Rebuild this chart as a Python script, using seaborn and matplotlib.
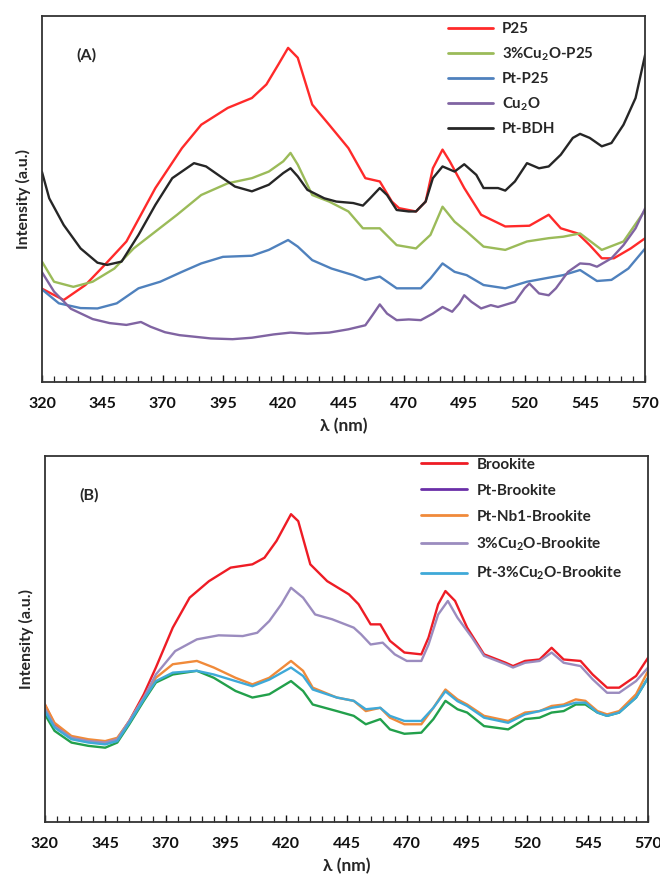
import pandas as pd
import seaborn as sns
import matplotlib.pyplot as plt
from matplotlib.lines import Line2D
from matplotlib.ticker import MultipleLocator, FixedLocator

# PL spectra, panel (A): P25 based samples
p25_wl = [320, 329, 338, 346, 355, 367, 378, 386, 397, 407, 413, 418, 422, 426, 432, 439, 447, 454, 460,
          465, 468, 475, 479, 482, 486, 489, 495, 502, 512, 522, 530, 535, 542, 547, 552, 557, 564, 570]
p25_int = [25.5, 22.4, 26.5, 32.0, 38.4, 53.0, 63.9, 70.3, 74.9, 77.6, 81.3, 86.8, 91.3, 88.6, 75.8, 70.3, 63.9,
           55.7, 54.8, 49.3, 47.5, 46.6, 49.3, 58.4, 63.5, 60.3, 53.0, 45.7, 42.5, 42.7, 45.7, 42.0, 40.6,
           37.4, 33.8, 33.8, 36.5, 39.3]

cu_p25_wl = [320, 325, 333, 341, 350, 358, 367, 376, 386, 397, 407, 414, 420, 423, 426, 432, 439, 447, 453,
             460, 467, 475, 481, 486, 491, 496, 503, 512, 521, 530, 536, 543, 552, 561, 570]
cu_p25_int = [32.9, 27.4, 26.0, 27.4, 31.0, 36.5, 41.1, 45.7, 51.1, 54.3, 55.7, 57.5, 60.3, 62.6, 59.4, 51.1,
              49.3, 46.6, 42.0, 42.0, 37.4, 36.5, 40.2, 47.9, 43.8, 41.1, 37.0, 36.1, 38.4, 39.3, 39.7, 40.6,
              36.1, 38.4, 47.0]

pt_p25_wl = [320, 327, 336, 343, 351, 360, 369, 378, 386, 395, 407, 414, 422, 426, 432, 440, 449, 454, 460,
             467, 477, 481, 486, 491, 496, 503, 512, 521, 530, 536, 543, 550, 556, 563, 570]
pt_p25_int = [25.3, 21.5, 20.2, 20.1, 21.5, 25.6, 27.4, 30.1, 32.4, 34.2, 34.5, 36.1, 38.8, 37.0, 33.3, 31.0,
              29.2, 27.9, 28.8, 25.6, 25.6, 28.3, 32.4, 30.1, 29.2, 26.5, 25.6, 27.4, 28.5, 29.2, 30.6, 27.6,
              27.9, 31.0, 36.5]

cu2o_wl = [320, 325, 332, 341, 348, 355, 361, 365, 371, 377, 390, 399, 407, 416, 423, 430, 439, 447, 454,
           457, 460, 463, 467, 472, 477, 482, 486, 490, 493, 495, 498, 502, 506, 509, 516, 520, 522, 526,
           530, 533, 538, 543, 547, 550, 556, 561, 566, 570]
cu2o_int = [30.0, 24.7, 20.0, 17.2, 16.1, 15.6, 16.4, 15.1, 13.6, 12.8, 11.9, 11.7, 12.1, 13.0, 13.5, 13.2,
            13.5, 14.4, 15.5, 18.3, 21.2, 18.7, 16.9, 17.1, 16.9, 18.7, 20.5, 19.2, 21.5, 23.7, 21.9, 20.1,
            21.0, 20.5, 21.9, 25.6, 26.9, 24.2, 23.7, 25.6, 30.1, 32.4, 32.2, 31.5, 33.8, 37.4, 42.0, 47.5]

bdh_wl = [320, 323, 329, 336, 343, 347, 353, 360, 367, 374, 383, 388, 393, 400, 407, 414, 420, 423, 426,
          430, 437, 442, 449, 453, 456, 460, 463, 467, 472, 475, 479, 482, 486, 491, 495, 500, 503, 509,
          512, 516, 521, 526, 530, 535, 540, 543, 547, 552, 556, 561, 566, 570]
bdh_int = [57.4, 50.2, 42.9, 36.5, 32.6, 32.0, 32.9, 40.2, 48.4, 55.7, 59.8, 58.9, 56.6, 53.4, 52.1, 53.9,
           57.1, 58.4, 56.2, 52.5, 50.2, 49.3, 48.9, 48.2, 50.2, 53.0, 51.1, 47.0, 46.6, 46.6, 49.3, 55.7,
           58.9, 57.5, 59.5, 56.6, 53.0, 53.0, 52.3, 54.8, 59.8, 58.4, 58.9, 62.1, 66.7, 67.8, 66.7, 64.4,
           65.3, 70.3, 77.6, 89.5]

# panel (B): brookite based samples
brk_wl = [320, 324, 331, 338, 345, 350, 355, 361, 366, 373, 380, 388, 397, 406, 411, 416, 422, 425, 430,
          437, 446, 450, 455, 459, 463, 469, 476, 479, 483, 486, 490, 495, 502, 511, 514, 519, 525, 530,
          535, 542, 547, 553, 558, 565, 570]
brk_int = [32.1, 26.7, 23.0, 22.1, 21.7, 22.6, 27.6, 34.9, 42.2, 53.1, 61.3, 65.8, 69.5, 70.4, 72.2, 76.8,
           84.1, 82.2, 70.4, 65.8, 62.2, 59.5, 54.0, 54.0, 49.5, 46.3, 45.8, 50.4, 59.5, 63.1, 60.4, 53.1,
           45.8, 43.5, 42.6, 44.0, 44.4, 47.6, 44.4, 44.0, 40.3, 36.7, 36.7, 39.9, 44.9]

cu_brk_wl = [320, 324, 331, 338, 345, 350, 355, 361, 366, 374, 383, 392, 402, 408, 413, 418, 422, 427, 432,
             439, 448, 451, 455, 460, 465, 470, 476, 479, 483, 487, 491, 497, 502, 511, 514, 519, 525, 530,
             535, 542, 547, 553, 558, 565, 570]
cu_brk_int = [31.0, 26.2, 23.0, 22.1, 21.7, 22.6, 27.6, 34.0, 40.3, 46.7, 49.9, 51.0, 50.8, 51.7, 54.9, 59.5,
              64.0, 61.3, 56.7, 55.4, 53.1, 51.3, 48.5, 49.0, 45.8, 44.0, 44.0, 48.5, 56.7, 60.4, 55.8, 50.4,
              45.4, 43.1, 42.2, 43.5, 44.0, 46.3, 43.5, 42.6, 39.0, 35.3, 35.3, 38.5, 42.2]

# the other three brookite curves share the same sampling
low_wl = [320, 324, 331, 338, 345, 350, 355, 361, 366, 373, 383, 390, 399, 406, 413, 422, 427, 431, 441,
          448, 453, 459, 463, 469, 476, 481, 486, 491, 495, 502, 512, 519, 525, 530, 535, 540, 544, 549,
          553, 558, 565, 570]
nb_brk_int = [32.1, 27.1, 23.5, 22.6, 22.1, 23.0, 27.6, 34.0, 39.4, 43.1, 44.0, 42.2, 39.4, 37.6, 39.4, 44.0,
              41.3, 36.7, 34.0, 33.1, 30.3, 31.2, 28.5, 26.7, 26.7, 31.2, 36.2, 33.5, 32.1, 29.0, 27.6, 29.9,
              30.3, 31.7, 32.1, 33.5, 33.1, 30.3, 29.4, 30.3, 34.9, 41.3]
pt_cu_brk_int = [30.3, 25.8, 22.6, 21.7, 21.2, 22.1, 27.1, 33.5, 38.5, 40.8, 41.3, 40.3, 38.5, 37.1, 38.9,
                 42.2, 39.9, 36.2, 34.0, 33.1, 30.8, 31.2, 29.0, 27.6, 27.6, 31.2, 35.7, 33.0, 31.7, 28.5,
                 27.1, 29.4, 30.3, 31.2, 31.7, 32.6, 32.6, 29.9, 29.0, 29.9, 34.0, 39.4]
pt_brk_int = [29.4, 24.9, 21.7, 20.8, 20.3, 21.7, 26.7, 33.1, 38.1, 40.3, 41.3, 39.4, 35.8, 34.0, 34.9, 38.5,
              35.8, 32.1, 30.3, 29.0, 26.7, 28.1, 25.3, 24.1, 24.4, 28.1, 33.1, 30.8, 29.9, 26.2, 25.3, 28.1,
              28.5, 29.9, 30.3, 32.1, 32.1, 29.9, 29.0, 29.9, 34.0, 39.4]

names_a = ['P25', '3%Cu$_2$O-P25', 'Pt-P25', 'Cu$_2$O', 'Pt-BDH']
colors_a = ['#ff2a2a', '#9bbb59', '#4f81bd', '#8064a2', '#262626']
names_b = ['Brookite', 'Pt-Brookite', 'Pt-Nb1-Brookite', '3%Cu$_2$O-Brookite', 'Pt-3%Cu$_2$O-Brookite']
colors_b = ['#ee1c25', '#22a04b', '#f08a3a', '#9b8cbf', '#3fa9d8']
legend_colors_b = ['#ee1c25', '#6a2fa8', '#f08a3a', '#9b8cbf', '#3fa9d8']
x_ticks = [320, 345, 370, 395, 420, 445, 470, 495, 520, 545, 570]


def long_df(series, names):
    parts = []
    for (wl, it), nm in zip(series, names):
        parts.append(pd.DataFrame({'wl': wl, 'I': it, 'sample': nm}))
    return pd.concat(parts, ignore_index=True)


df_a = long_df([(p25_wl, p25_int), (cu_p25_wl, cu_p25_int), (pt_p25_wl, pt_p25_int),
                (cu2o_wl, cu2o_int), (bdh_wl, bdh_int)], names_a)
df_b = long_df([(brk_wl, brk_int), (low_wl, pt_brk_int), (low_wl, nb_brk_int),
                (cu_brk_wl, cu_brk_int), (low_wl, pt_cu_brk_int)], names_b)

sns.set_style('white')
plt.rcParams['font.family'] = ['Lato', 'DejaVu Sans']
plt.rcParams['font.weight'] = 'bold'
plt.rcParams['mathtext.default'] = 'regular'
plt.rcParams['lines.solid_joinstyle'] = 'round'

fig = plt.figure(figsize=(6.6, 8.81), dpi=100)
ax_a = fig.add_axes([0.0636, 0.5664, 0.914, 0.4154])
ax_b = fig.add_axes([0.068, 0.067, 0.914, 0.4154])


def style_axis(ax, tag):
    ax.set_xlim(320, 570)
    ax.set_ylim(0, 100)
    ax.xaxis.set_major_locator(FixedLocator(x_ticks))
    ax.xaxis.set_minor_locator(MultipleLocator(5))
    ax.tick_params(axis='x', which='major', direction='in', length=5, width=1.0, pad=11,
                   labelsize=11.5, colors='#111111', bottom=True)
    ax.tick_params(axis='x', which='minor', direction='in', length=4, width=0.9, bottom=True, color='#222222')
    ax.set_yticks([])
    for sp in ax.spines.values():
        sp.set_color('#333333')
        sp.set_linewidth(1.3)
    ax.set_ylabel('Intensity (a.u.)', fontsize=11.5, fontweight='bold', labelpad=8)
    ax.set_xlabel('λ (nm)', fontsize=12.5, fontweight='bold', labelpad=5)
    ax.text(0.073, 0.893, tag, transform=ax.transAxes, fontsize=11.5, fontweight='bold',
            ha='center', va='center')


sns.lineplot(data=df_a, x='wl', y='I', hue='sample', hue_order=names_a, palette=colors_a,
             linewidth=1.7, ax=ax_a, legend=False, sort=True)
style_axis(ax_a, '(A)')
ax_a.legend([Line2D([], [], color=c, lw=2) for c in colors_a], names_a, loc='upper left',
            bbox_to_anchor=(0.673, 0.984), frameon=False, fontsize=10.8, handlelength=3.0,
            handletextpad=0.6, labelspacing=0.62, borderpad=0, borderaxespad=0)

sns.lineplot(data=df_b, x='wl', y='I', hue='sample', hue_order=names_b, palette=colors_b,
             linewidth=1.7, ax=ax_b, legend=False, sort=True)
style_axis(ax_b, '(B)')
ax_b.legend([Line2D([], [], color=c, lw=2) for c in legend_colors_b], names_b, loc='upper left',
            bbox_to_anchor=(0.624, 0.995), frameon=False, fontsize=11, handlelength=3.0,
            handletextpad=0.6, labelspacing=0.78, borderpad=0, borderaxespad=0)

fig.savefig('out.png', dpi=100)
